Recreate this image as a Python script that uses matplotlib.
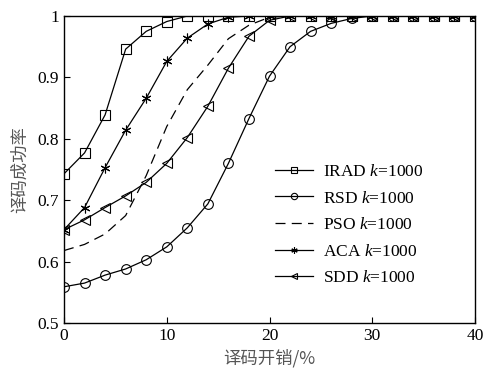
import numpy as np
import matplotlib.pyplot as plt

plt.rcParams['font.family'] = ['Liberation Serif', 'Noto Sans CJK SC']
plt.rcParams['mathtext.fontset'] = 'custom'
plt.rcParams['mathtext.it'] = 'Liberation Serif:italic'
plt.rcParams['mathtext.rm'] = 'Liberation Serif'

x = np.arange(0, 41, 2)

irad = [0.743, 0.777, 0.839, 0.946, 0.975, 0.991, 1.0, 1.0, 1.0, 1.0, 1.0,
        1.0, 1.0, 1.0, 1.0, 1.0, 1.0, 1.0, 1.0, 1.0, 1.0]
rsd = [0.559, 0.565, 0.578, 0.588, 0.603, 0.624, 0.655, 0.694, 0.760, 0.833, 0.902,
       0.950, 0.975, 0.988, 0.996, 1.0, 1.0, 1.0, 1.0, 1.0, 1.0]
pso = [0.618, 0.628, 0.645, 0.675, 0.740, 0.820, 0.880, 0.920, 0.963, 0.985, 0.998,
       1.0, 1.0, 1.0, 1.0, 1.0, 1.0, 1.0, 1.0, 1.0, 1.0]
aca = [0.652, 0.688, 0.753, 0.814, 0.866, 0.926, 0.964, 0.987, 0.998, 1.0, 1.0,
       1.0, 1.0, 1.0, 1.0, 1.0, 1.0, 1.0, 1.0, 1.0, 1.0]
sdd = [0.652, 0.668, 0.688, 0.707, 0.729, 0.760, 0.802, 0.853, 0.915, 0.967, 0.993,
       1.0, 1.0, 1.0, 1.0, 1.0, 1.0, 1.0, 1.0, 1.0, 1.0]

fig = plt.figure(figsize=(4.85, 3.71), dpi=100)
ax = fig.add_axes([64 / 485, 1 - 323 / 371, 411 / 485, 307 / 371])

kw = dict(color='black', lw=0.9, mfc='none', mew=0.8)
ax.plot(x, irad, marker='s', ms=6.5, label=r'IRAD $k$=1000', **kw)
ax.plot(x, rsd, marker='o', ms=7, label=r'RSD $k$=1000', **kw)
ax.plot(x, pso, ls=(0, (8, 5)), color='black', lw=0.9, label=r'PSO $k$=1000')
ax.plot(x, aca, marker=(6, 2, 0), ms=7, label=r'ACA $k$=1000', **kw)
ax.plot(x, sdd, marker='<', ms=7, label=r'SDD $k$=1000', **kw)

ax.set_xlim(0, 40)
ax.set_ylim(0.5, 1.0)
ax.set_xticks([0, 10, 20, 30, 40])
ax.set_yticks([0.5, 0.6, 0.7, 0.8, 0.9, 1.0])
ax.set_yticklabels(['0.5', '0.6', '0.7', '0.8', '0.9', '1'])
ax.tick_params(direction='in', length=4, labelsize=12.5, top=False, right=False)
for s in ax.spines.values():
    s.set_linewidth(1.0)

ax.set_xlabel('译码开销/%', fontsize=12.5, color='#555555', labelpad=4,
              family=['Noto Sans CJK SC'])
ax.set_ylabel('译码成功率', fontsize=12.5, color='#555555', labelpad=6,
              family=['Noto Sans CJK SC'])

leg = ax.legend(loc='center left', bbox_to_anchor=(0.475, 0.319), frameon=False,
                fontsize=12.5, handlelength=2.2, labelspacing=0.6, markerscale=0.65,
                handletextpad=0.6)

fig.savefig('out.png', dpi=100)
